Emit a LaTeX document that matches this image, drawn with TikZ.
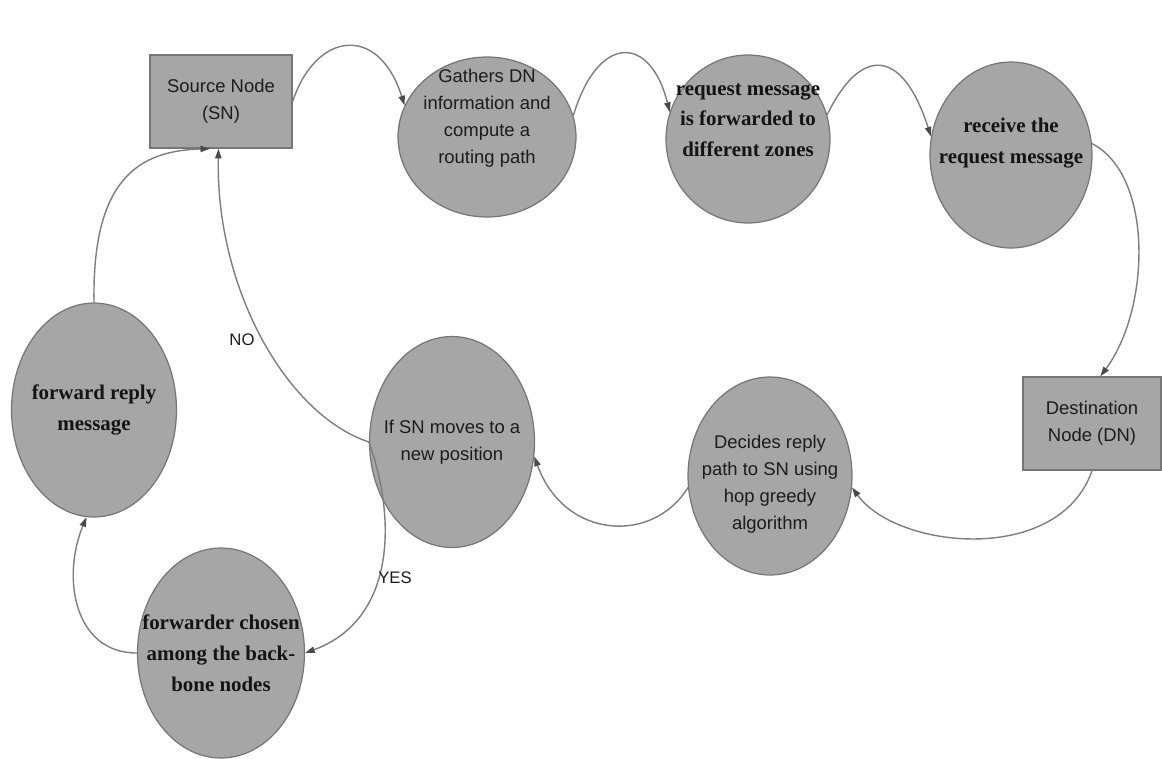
\documentclass[tikz,border=0pt]{standalone}
\usepackage{fontspec}
\setmainfont{Liberation Serif}
\newfontfamily\labsans{Liberation Sans}
\usetikzlibrary{shapes.geometric,arrows.meta,calc}
\definecolor{nodefill}{HTML}{A6A6A6}
\definecolor{nodeline}{HTML}{767676}
\definecolor{wire}{HTML}{7E7E7E}
\definecolor{tipc}{HTML}{4A4A4A}
\definecolor{txtdark}{HTML}{1C1C1C}
\tikzset{
  ellnode/.style={ellipse, draw=nodeline, fill=nodefill, line width=0.7pt, inner sep=0pt},
  rectnode/.style={rectangle, draw=nodeline, fill=nodefill, line width=0.8pt, inner sep=0pt,
    align=center, font=\labsans\fontsize{10.5}{15.3}\selectfont, text=txtdark},
  sanstxt/.style={font=\labsans\fontsize{10.5}{15.3}\selectfont, text=txtdark, align=center},
  seriftxt/.style={font=\bfseries\fontsize{11.9}{17.5}\selectfont, text=black!92, align=center},
  conn/.style={draw=wire, line width=0.8pt, -{Triangle[length=5.5pt,width=3.6pt,color=tipc]}},
  choice/.style={font=\labsans\fontsize{9.5}{11}\selectfont, text=txtdark}
}
\begin{document}
\begin{tikzpicture}[x=0.02cm,y=-0.02cm]
\useasboundingbox (0,0) rectangle (1162,758);

% nodes
\node[rectnode, minimum width=2.84cm, minimum height=1.86cm] (sn) at (221,101.5) {Source Node\\(SN)};
\node[ellnode, minimum width=3.56cm, minimum height=3.2cm,
  label={[sanstxt,yshift=0.38cm]center:Gathers DN\\information and\\compute a\\routing path}] (gath) at (487,137) {};
\node[ellnode, minimum width=3.28cm, minimum height=3.36cm,
  label={[seriftxt,yshift=0.38cm]center:request message\\is forwarded to\\different zones}] (req) at (748,139) {};
\node[ellnode, minimum width=3.24cm, minimum height=3.72cm,
  label={[seriftxt,yshift=0.24cm]center:receive the\\request message}] (recv) at (1011,155) {};
\node[rectnode, minimum width=2.76cm, minimum height=1.86cm] (dn) at (1092,423.5) {Destination\\Node (DN)};
\node[ellnode, minimum width=3.28cm, minimum height=3.96cm,
  label={[sanstxt,yshift=-0.16cm]center:Decides reply\\path to SN using\\hop greedy\\algorithm}] (dec) at (770,476) {};
\node[ellnode, minimum width=3.3cm, minimum height=4.22cm,
  label={[sanstxt]center:If SN moves to a\\new position}] (ifsn) at (452,442) {};
\node[ellnode, minimum width=3.3cm, minimum height=4.28cm,
  label={[seriftxt]center:forward reply\\message}] (fwd) at (94,410) {};
\node[ellnode, minimum width=3.34cm, minimum height=4.2cm,
  label={[seriftxt]center:forwarder chosen\\among the back-\\bone nodes}] (fwc) at (221,653) {};

% connectors
\draw[conn] (sn.east) .. controls +(23,-70) and +(-26,-82) .. (gath.159);
\draw[conn] (gath.14) .. controls +(25,-83) and +(-19,-77) .. (req.161);
\draw[conn] (req.17) .. controls +(33,-68) and +(-29,-90) .. (recv.167);
\draw[conn] (recv.8) .. controls +(62,32) and +(50,-67) .. (dn.80);
\draw[conn] (dn.south) .. controls +(-33,95) and +(45,62) .. (dec.-8);
\draw[conn] (dec.188) .. controls +(-35,57) and +(30,83) .. (ifsn.-10);
\draw[conn] (ifsn.west) .. controls +(-82,-27) and +(-3,140) .. (sn.-93);
\draw[conn] (ifsn.west) .. controls +(28,78) and +(90,-33) .. (fwc.east);
\draw[conn] (fwc.west) .. controls +(-63,0) and +(-25,60) .. (fwd.-94);
\draw[conn] (fwd.north) .. controls +(-2,-125) and +(-70,2) .. (sn.-103);

% branch labels
\node[choice] (nolab) at (242,340) {NO};
\node[choice] (yeslab) at (395,578) {YES};
\end{tikzpicture}
\end{document}
